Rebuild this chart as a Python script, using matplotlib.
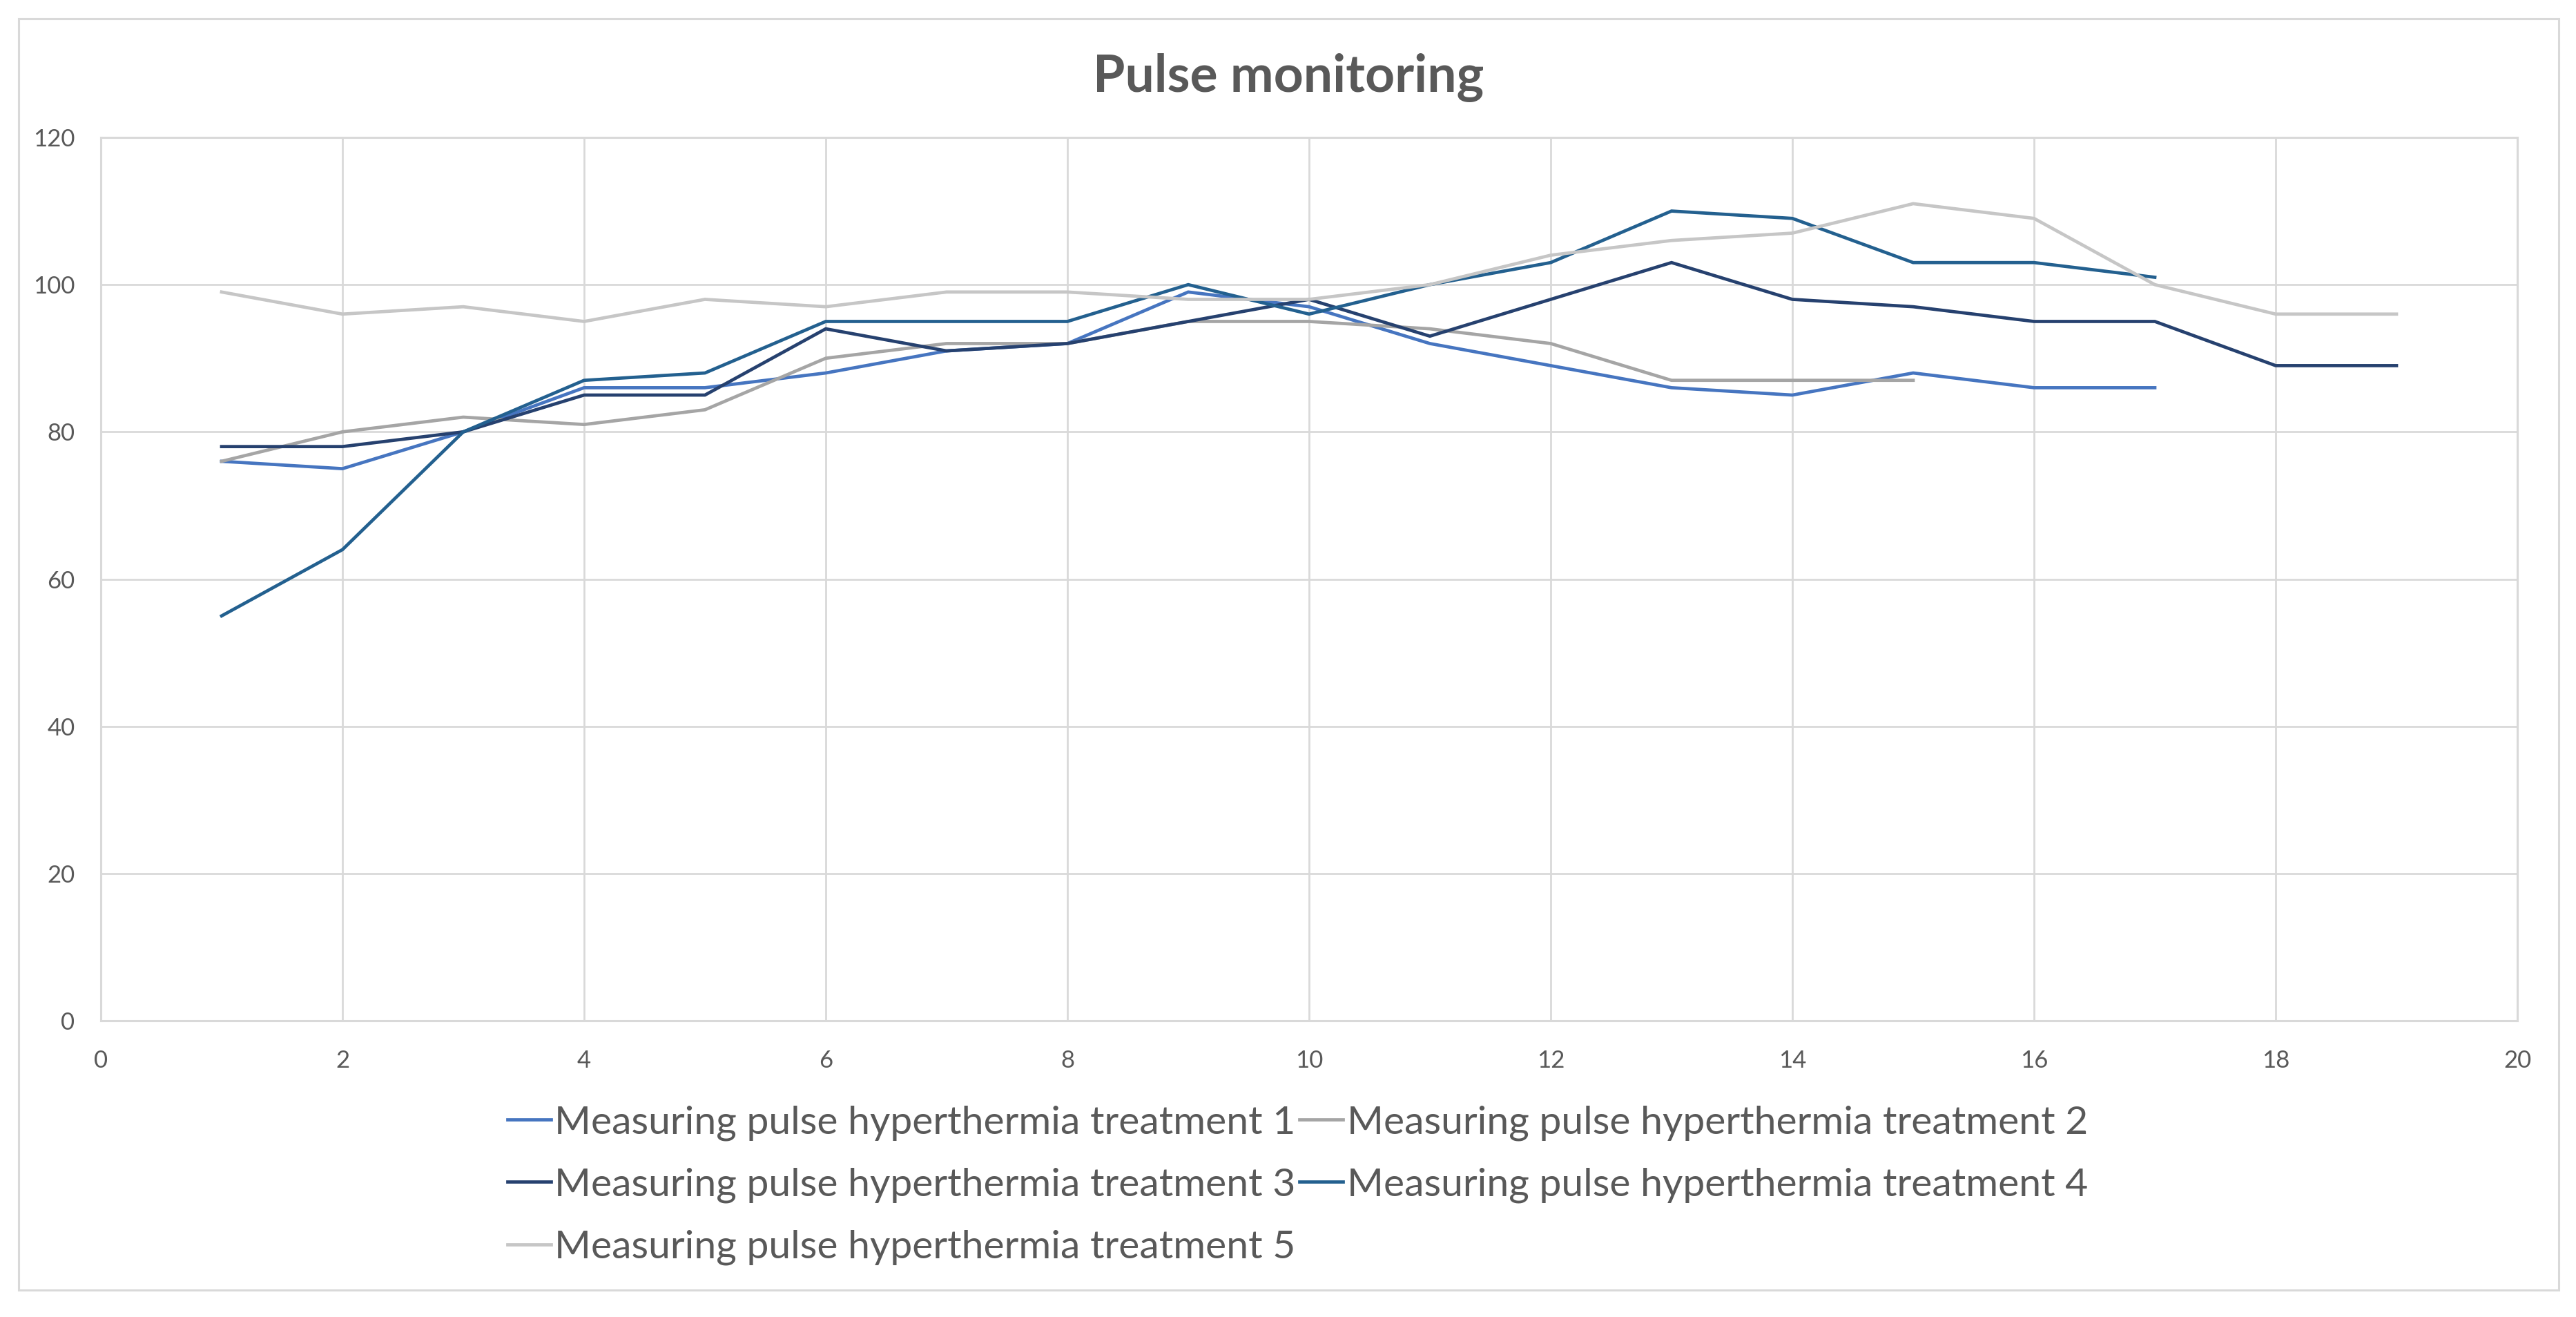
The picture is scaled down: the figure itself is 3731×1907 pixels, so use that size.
import matplotlib
matplotlib.use("Agg")
import matplotlib.pyplot as plt
from matplotlib.patches import Rectangle

plt.rcParams['font.family'] = ['Lato', 'DejaVu Sans']

# data
x_t1 = list(range(1, 18))
t1 = [76, 75, 80, 86, 86, 88, 91, 92, 99, 97, 92, 89, 86, 85, 88, 86, 86]
x_t2 = list(range(1, 16))
t2 = [76, 80, 82, 81, 83, 90, 92, 92, 95, 95, 94, 92, 87, 87, 87]
x_t3 = list(range(1, 20))
t3 = [78, 78, 80, 85, 85, 94, 91, 92, 95, 98, 93, 98, 103, 98, 97, 95, 95, 89, 89]
x_t4 = list(range(1, 18))
t4 = [55, 64, 80, 87, 88, 95, 95, 95, 100, 96, 100, 103, 110, 109, 103, 103, 101]
x_t5 = list(range(1, 20))
t5 = [99, 96, 97, 95, 98, 97, 99, 99, 98, 98, 100, 104, 106, 107, 111, 109, 100, 96, 96]

labels = ["Measuring pulse hyperthermia treatment %d" % i for i in range(1, 6)]
colors = ["#4675C0", "#A5A5A5", "#26416F", "#23608F", "#C6C6C6"]
xticks = list(range(0, 21, 2))
yticks = list(range(0, 121, 20))

W, H = 3731, 1907
fig = plt.figure(figsize=(W / 100, H / 100), dpi=100)
ax = fig.add_axes([146 / W, 1 - 1478 / H, 3500 / W, (1478 - 199) / H])

grid = "#D9D9D9"
txt = "#595959"

# outer chart border
fig.patches.append(Rectangle((27 / W, 1 - 1868 / H), (3706 - 27) / W, (1868 - 27) / H,
                             transform=fig.transFigure, fill=False, edgecolor=grid, lw=2.2))

series = [(x_t1, t1), (x_t2, t2), (x_t3, t3), (x_t4, t4), (x_t5, t5)]
handles = []
for (xs, ys), c, lab in zip(series, colors, labels):
    h, = ax.plot(xs, ys, color=c, lw=3.4, label=lab, solid_joinstyle="miter", zorder=3)
    handles.append(h)

ax.set_xlim(0, 20)
ax.set_ylim(0, 120)
ax.set_xticks(xticks)
ax.set_yticks(yticks)
ax.grid(True, color=grid, lw=2.0, zorder=0)
for s in ax.spines.values():
    s.set_color(grid)
    s.set_linewidth(2.2)
ax.tick_params(length=0, labelsize=25, labelcolor=txt)
ax.tick_params(axis="x", pad=30)
ax.tick_params(axis="y", pad=27)

fig.text(1866 / W, 1 - 112 / H, "Pulse monitoring", ha="center", va="center",
         fontsize=54, fontweight="bold", color=txt)

# row-wise order like the original legend
order = [0, 2, 4, 1, 3]
leg = fig.legend([handles[i] for i in order], [labels[i] for i in order],
                 ncol=2, loc="upper left", bbox_to_anchor=(735 / W, 1 - 1600 / H),
                 frameon=False, fontsize=41, handlelength=1.1, handletextpad=0.1,
                 columnspacing=0.1, labelspacing=0.68, borderaxespad=0, borderpad=0)
for t in leg.get_texts():
    t.set_color(txt)

fig.savefig("out.png", dpi=100)
